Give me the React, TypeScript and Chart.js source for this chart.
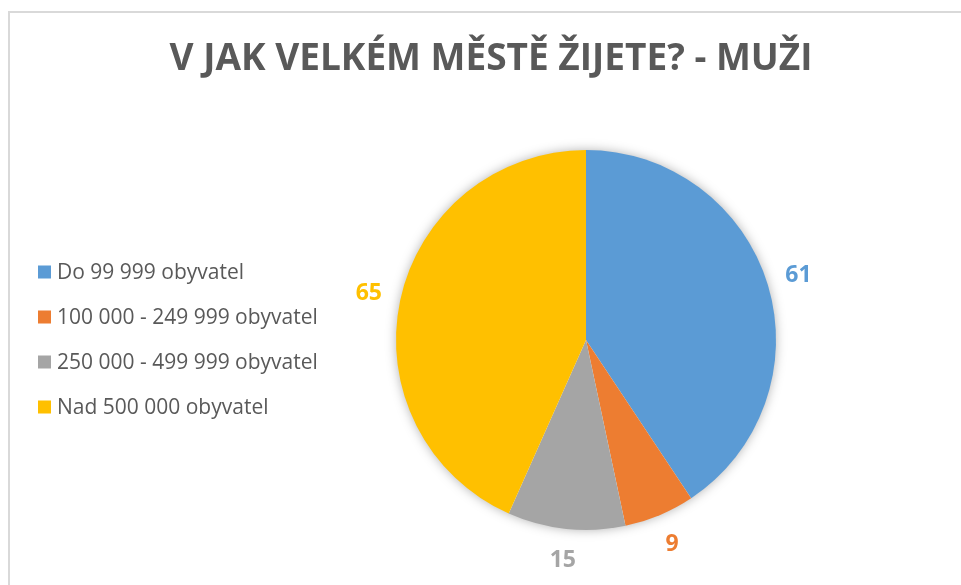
import React, { useEffect, useRef } from "react";
import { Chart, registerables } from "chart.js";

Chart.register(...registerables);

const TITLE = "V JAK VELKÉM MĚSTĚ ŽIJETE? - MUŽI";
const categories = [
  "Do 99 999 obyvatel",
  "100 000 - 249 999 obyvatel",
  "250 000 - 499 999 obyvatel",
  "Nad 500 000 obyvatel",
];
const values = [61, 9, 15, 65];
const colors = ["#5B9BD5", "#ED7D31", "#A5A5A5", "#FFC000"];

const framePlugin = {
  id: "frame",
  beforeDraw(chart: any) {
    const ctx = chart.ctx;
    ctx.save();
    ctx.fillStyle = "#ffffff";
    ctx.fillRect(0, 0, chart.width, chart.height);
    ctx.strokeStyle = "#d9d9d9";
    ctx.lineWidth = 2;
    ctx.beginPath();
    ctx.moveTo(9, chart.height + 2);
    ctx.lineTo(9, 12);
    ctx.lineTo(chart.width + 2, 12);
    ctx.stroke();
    // title
    ctx.fillStyle = "#595959";
    ctx.font = "bold 37px 'Open Sans'";
    ctx.textAlign = "center";
    ctx.textBaseline = "alphabetic";
    ctx.fillText(TITLE, 491, 70);
    // legend
    ctx.font = "21px 'Open Sans'";
    ctx.textAlign = "left";
    ctx.textBaseline = "middle";
    const y0 = 272;
    const step = 45;
    categories.forEach((c, i) => {
      const y = y0 + i * step;
      ctx.fillStyle = colors[i];
      ctx.fillRect(38, y - 6.5, 13, 13);
      ctx.fillStyle = "#595959";
      ctx.fillText(c, 57, y + 1);
    });
    ctx.restore();
  },
  beforeDatasetsDraw(chart: any) {
    const meta = chart.getDatasetMeta(0);
    const arc = meta.data[0];
    if (!arc) return;
    const { x, y, outerRadius } = arc.getProps(["x", "y", "outerRadius"], true);
    const ctx = chart.ctx;
    ctx.save();
    ctx.shadowColor = "rgba(0,0,0,0.35)";
    ctx.shadowBlur = 12;
    ctx.fillStyle = "#ffffff";
    ctx.beginPath();
    ctx.arc(x, y, outerRadius - 1, 0, Math.PI * 2);
    ctx.fill();
    ctx.restore();
  },
  afterDatasetsDraw(chart: any) {
    const meta = chart.getDatasetMeta(0);
    const ctx = chart.ctx;
    ctx.save();
    ctx.font = "bold 23px 'Open Sans'";
    ctx.textAlign = "center";
    ctx.textBaseline = "middle";
    meta.data.forEach((el: any, i: number) => {
      const { x, y, startAngle, endAngle, outerRadius } = el.getProps(
        ["x", "y", "startAngle", "endAngle", "outerRadius"],
        true
      );
      const mid = (startAngle + endAngle) / 2;
      const r = outerRadius + 32;
      ctx.fillStyle = colors[i];
      ctx.fillText(String(values[i]), x + Math.cos(mid) * r, y + Math.sin(mid) * r);
    });
    ctx.restore();
  },
};

export default function App() {
  const ref = useRef<HTMLCanvasElement>(null);
  useEffect(() => {
    document.body.style.margin = "0";
    const chart = new Chart(ref.current!, {
      type: "pie",
      data: {
        labels: categories,
        datasets: [
          {
            data: values,
            backgroundColor: colors,
            borderWidth: 0,
          },
        ],
      },
      options: {
        animation: false,
        responsive: false,
        devicePixelRatio: 1,
        layout: { padding: { top: 150, bottom: 55, left: 396, right: 185 } },
        plugins: {
          legend: { display: false },
          title: { display: false },
          tooltip: { enabled: false },
        },
      },
      plugins: [framePlugin],
    });
    return () => chart.destroy();
  }, []);
  return (
    <div style={{ position: "fixed", left: 0, top: 0, width: 961, height: 585 }}>
      <canvas ref={ref} width={961} height={585} />
    </div>
  );
}
